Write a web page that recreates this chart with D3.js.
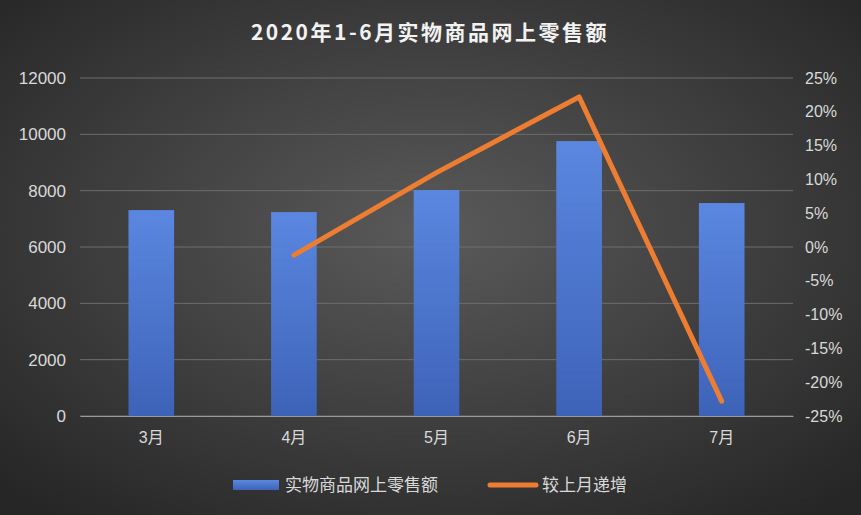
<!DOCTYPE html><html><head><meta charset="utf-8"><script src="https://cdn.jsdelivr.net/npm/d3@7"></script>
<style>body{margin:0;}svg{display:block}</style></head><body><svg id="c" width="861" height="515"></svg>
<script>
const categories=["3月","4月","5月","6月","7月"];
const sales=[7310,7240,8020,9760,7560];
const growth=[null,-1.2,11.0,22.2,-22.8];
const leftTicks=[0,2000,4000,6000,8000,10000,12000];
const rightTicks=[-25,-20,-15,-10,-5,0,5,10,15,20,25];
const svg=d3.select("#c");
const defs=svg.append("defs");
const rg=defs.append("radialGradient").attr("id","bg").attr("cx","50%").attr("cy","45%").attr("r","70%");
rg.append("stop").attr("offset","0%").attr("stop-color","#5a5a5a");
rg.append("stop").attr("offset","100%").attr("stop-color","#262626");
const bg=defs.append("linearGradient").attr("id","bar").attr("x1",0).attr("y1",0).attr("x2",0).attr("y2",1);
bg.append("stop").attr("offset","0%").attr("stop-color","#5b87e0");
bg.append("stop").attr("offset","100%").attr("stop-color","#3d63b8");
svg.append("rect").attr("width",861).attr("height",515).attr("fill","url(#bg)");
const L=80,R=793,T=78,B=416;
const x=d3.scaleBand().domain(categories).range([L,R]).paddingInner(0.68).paddingOuter(0.34);
const y=d3.scaleLinear().domain([0,12000]).range([B,T]);
const y2=d3.scaleLinear().domain([-25,25]).range([B,T]);
const font="'Liberation Sans','Noto Sans CJK SC',sans-serif";
svg.append("g").selectAll("line").data(leftTicks).join("line").attr("x1",L).attr("x2",R)
 .attr("y1",d=>y(d)).attr("y2",d=>y(d)).attr("stroke","#6e6e6e").attr("stroke-width",1);
svg.append("g").selectAll("rect").data(sales).join("rect").attr("x",(d,i)=>x(categories[i])).attr("width",x.bandwidth())
 .attr("y",d=>y(d)).attr("height",d=>B-y(d)).attr("fill","url(#bar)");
const ax=svg.append("g").attr("transform",`translate(0,${B})`).call(d3.axisBottom(x).tickSize(0).tickPadding(16));
ax.select(".domain").attr("stroke","#9a9a9a");
const al=svg.append("g").attr("transform",`translate(${L-14},0)`).call(d3.axisLeft(y).tickValues(leftTicks).tickSize(0).tickPadding(0).tickFormat(d3.format("d")));
al.select(".domain").remove();
const ar=svg.append("g").attr("transform",`translate(${R+12},0)`).call(d3.axisRight(y2).tickValues(rightTicks).tickSize(0).tickPadding(0).tickFormat(d=>d+"%"));
ar.select(".domain").remove();
svg.selectAll(".tick text").attr("fill","#d9d9d9").style("font-size","16px").style("font-family",font);
al.selectAll(".tick text").style("font-size","17px");
const line=d3.line().defined(d=>d!=null).x((d,i)=>x(categories[i])+x.bandwidth()/2).y(d=>y2(d));
svg.append("path").datum(growth).attr("d",line).attr("fill","none").attr("stroke","#ed7d31").attr("stroke-width",5).attr("stroke-linejoin","round").attr("stroke-linecap","round");
svg.append("text").attr("x",430).attr("y",40).attr("text-anchor","middle").attr("fill","#f2f2f2").style("font-size","21px").style("font-weight","bold").style("letter-spacing","2.5px").style("font-family","'Noto Sans CJK SC',sans-serif").text("2020年1-6月实物商品网上零售额");
const lg=svg.append("g").style("font-family","'Noto Sans CJK SC',sans-serif").style("font-size","17px");
lg.append("rect").attr("x",233).attr("y",480).attr("width",46).attr("height",10).attr("fill","url(#bar)");
lg.append("text").attr("x",285).attr("y",491).attr("fill","#d9d9d9").text("实物商品网上零售额");
lg.append("line").attr("x1",490).attr("x2",536).attr("y1",485).attr("y2",485).attr("stroke","#ed7d31").attr("stroke-width",5).attr("stroke-linecap","round");
lg.append("text").attr("x",542).attr("y",491).attr("fill","#d9d9d9").text("较上月递增");
</script></body></html>
